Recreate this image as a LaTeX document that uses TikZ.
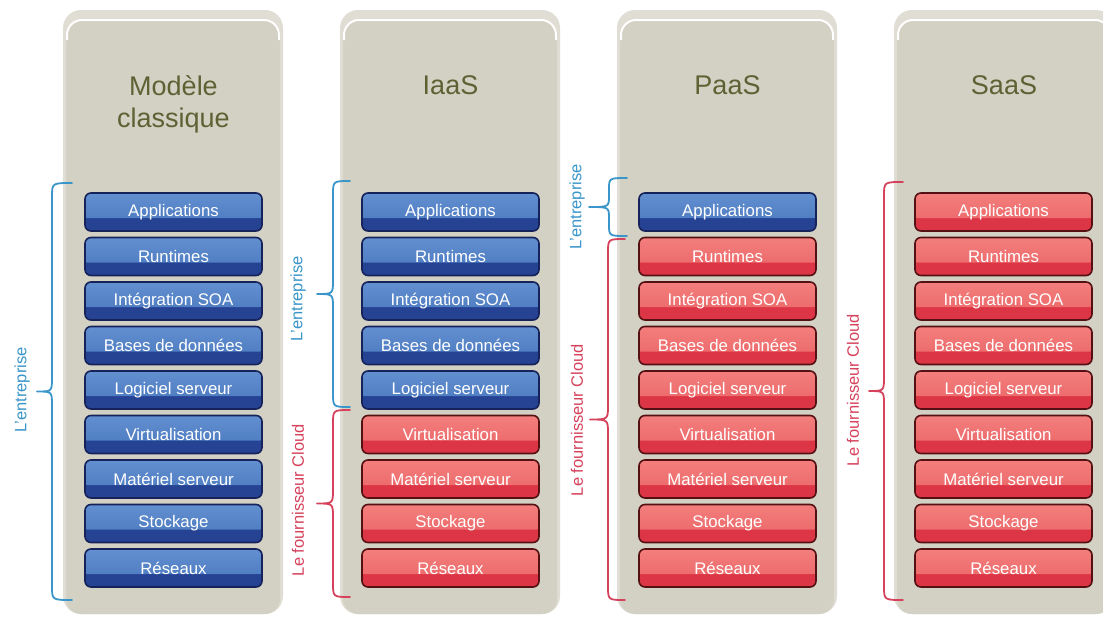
\documentclass[tikz,border=0pt]{standalone}
\usepackage{fontspec}
\setmainfont{Liberation Sans}
\usetikzlibrary{calc}

\definecolor{panelrim}{RGB}{224,222,212}
\definecolor{panelfill}{RGB}{211,209,196}
\definecolor{titlecol}{RGB}{94,97,52}
\definecolor{bluehi}{RGB}{100,146,210}
\definecolor{bluetop}{RGB}{72,118,188}
\definecolor{bluelow}{RGB}{38,66,146}
\definecolor{blueedge}{RGB}{22,34,90}
\definecolor{redhi}{RGB}{244,130,128}
\definecolor{redtop}{RGB}{234,98,100}
\definecolor{redlow}{RGB}{220,54,70}
\definecolor{rededge}{RGB}{84,16,18}
\definecolor{entblue}{RGB}{58,150,202}
\definecolor{cloudred}{RGB}{214,66,92}

\tikzset{
  layer/.style={minimum width=177pt, minimum height=38pt, inner sep=0pt,
    rounded corners=6pt, line width=1.6pt, text=white,
    font=\fontsize{16.8}{18}\selectfont},
  gloss/.style 2 args={path picture={
    \shade[top color=#1, bottom color=#2]
      ([xshift=-4pt,yshift=4pt]path picture bounding box.north west)
      rectangle ([xshift=4pt,yshift=-6pt]path picture bounding box.east);
  }},
  bluelayer/.style={layer, draw=blueedge, fill=bluelow, gloss={bluehi}{bluetop}},
  redlayer/.style={layer, draw=rededge, fill=redlow, gloss={redhi}{redtop}},
  coltitle/.style={text=titlecol, align=center, font=\fontsize{27}{32}\selectfont},
  sidelabel/.style={rotate=90, font=\fontsize{16.5}{18}\selectfont},
  bracepath/.style={line width=1.8pt, line cap=round, line join=round},
}

% curly brace: line x, hook end x, tip x, top y, bottom y, colour
\newcommand{\drawbrace}[6]{%
  \pgfmathsetmacro{\bmid}{(#4+#5)/2}%
  \pgfmathsetmacro{\br}{min(14,(#5-#4)/5)}%
  \draw[bracepath, #6]
    (#2,#4) .. controls (#1,#4) .. (#1,#4+\br)
    -- (#1,\bmid-\br) .. controls (#1,\bmid) .. (#3,\bmid)
    .. controls (#1,\bmid) .. (#1,\bmid+\br)
    -- (#1,#5-\br) .. controls (#1,#5) .. (#2,#5);
}

\begin{document}
\begin{tikzpicture}[x=1pt, y=-1pt]
  \useasboundingbox (0,0) rectangle (1103,616);
  \clip (0,0) rectangle (1103,616);
  \fill[white] (0,0) rectangle (1103,616);

  % panels
  \foreach \px in {63,340,617,894} {
    \fill[panelrim, rounded corners=18pt] (\px,10) rectangle (\px+220,614);
    \fill[panelfill, rounded corners=15pt] (\px+3,20) rectangle (\px+217,614);
    \draw[white, line width=2pt, rounded corners=15pt]
      (\px+4,40) -- (\px+4,20) -- (\px+216,20) -- (\px+216,40);
  }

  % column titles
  \node[coltitle] (t1) at (173.5,104) {Modèle\\classique};
  \node[coltitle] (t2) at (450.5,85) {IaaS};
  \node[coltitle] (t3) at (727.5,85) {PaaS};
  \node[coltitle] (t4) at (1004,85) {SaaS};

  % layer stacks; the count gives how many layers stay with the company
  \foreach \col/\cx/\nblue in {1/173.5/9, 2/450.5/5, 3/727.5/1, 4/1003.5/0} {
    \foreach \name [count=\i] in {Applications, Runtimes, Intégration SOA,
        Bases de données, Logiciel serveur, Virtualisation,
        Matériel serveur, Stockage, Réseaux} {
      \pgfmathsetmacro{\cy}{212+(\i-1)*44.5}
      \ifnum\i>\nblue
        \node[redlayer] (c\col l\i) at (\cx,\cy) {\name};
      \else
        \node[bluelayer] (c\col l\i) at (\cx,\cy) {\name};
      \fi
    }
  }

  % braces
  \drawbrace{52}{72}{37}{183}{600}{entblue}
  \drawbrace{333}{350}{317}{181}{407}{entblue}
  \drawbrace{333}{350}{317}{410}{597}{cloudred}
  \drawbrace{609}{627}{589}{178}{236}{entblue}
  \drawbrace{608}{625}{590}{239}{600}{cloudred}
  \drawbrace{884}{903}{869}{182}{600}{cloudred}

  % side labels
  \node[sidelabel, text=entblue] (e1) at (22,390) {L'entreprise};
  \node[sidelabel, text=entblue] (e2) at (298,299) {L'entreprise};
  \node[sidelabel, text=cloudred] (f2) at (298,500) {Le fournisseur Cloud};
  \node[sidelabel, text=entblue] (e3) at (577,207) {L'entreprise};
  \node[sidelabel, text=cloudred] (f3) at (577,420) {Le fournisseur Cloud};
  \node[sidelabel, text=cloudred] (f4) at (853,390) {Le fournisseur Cloud};
\end{tikzpicture}
\end{document}
